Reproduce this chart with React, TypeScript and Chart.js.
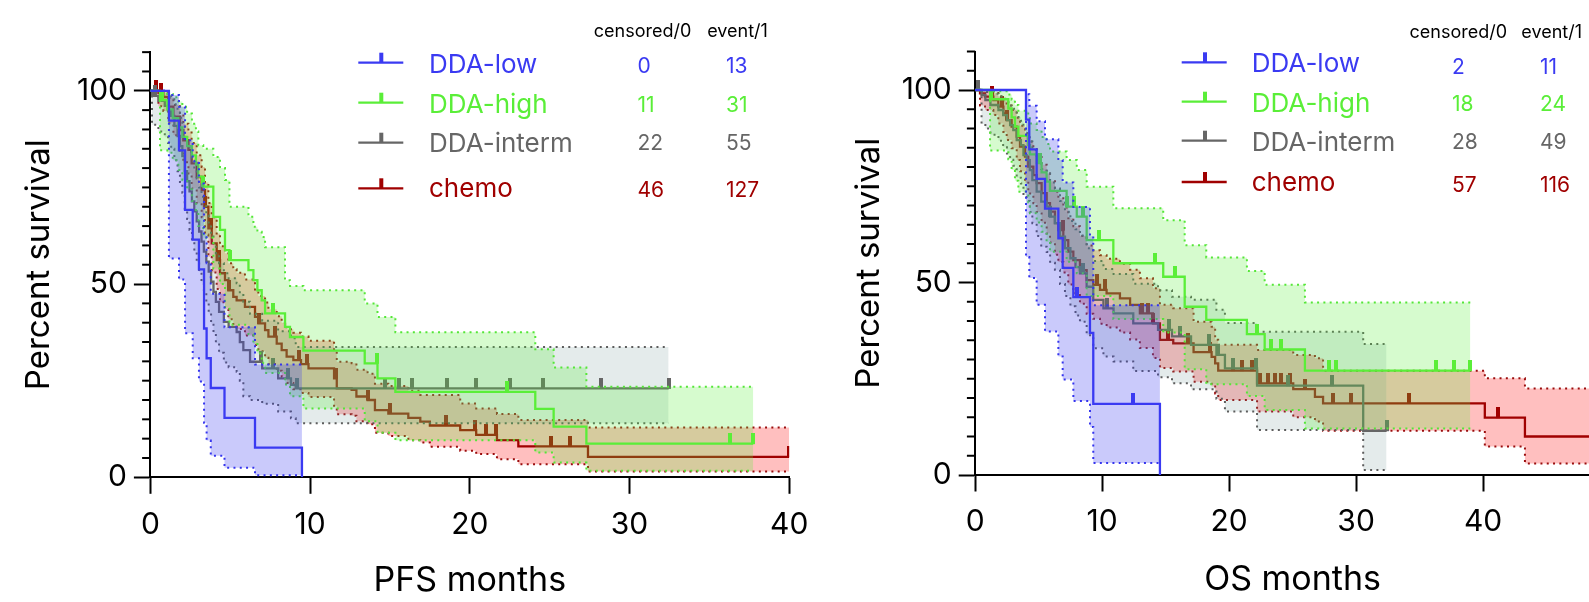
import React, { useEffect, useRef } from "react";
import { Chart, registerables } from "chart.js";
Chart.register(...registerables);

const FONT = "Inter";

// ---------- axis tick labels ----------
const yTickValues = [0, 50, 100];
const yMinorTickValues = [5, 10, 15, 20, 25, 30, 35, 40, 45, 55, 60, 65, 70, 75, 80, 85, 90, 95, 105, 110];
const pfsXTickValues = [0, 10, 20, 30, 40];
const osXTickValues = [0, 10, 20, 30, 40, 50];

// ---------- legend table ----------
const groupNames = ["DDA-low", "DDA-high", "DDA-interm", "chemo"];
const pfsCensoredCounts = [0, 11, 22, 46];
const pfsEventCounts = [13, 31, 55, 127];
const osCensoredCounts = [2, 18, 28, 57];
const osEventCounts = [11, 24, 49, 116];

// ---------- PFS : DDA-low ----------
const pfsLowT = [0, 1.16, 1.79, 2.17, 2.65, 3.04, 3.36, 3.52, 3.78, 4.64, 6.55, 9.49];
const pfsLowS = [100, 92.3, 84.6, 69.2, 61.5, 53.8, 38.5, 30.8, 23.1, 15.4, 7.7, 0];
const pfsLowU = [100, 98.9, 95.9, 87.2, 81.8, 76.0, 62.8, 55.4, 47.5, 38.8, 29.2, 29.2];
const pfsLowL = [100, 56.6, 51.2, 37.3, 30.8, 24.8, 14.1, 9.5, 5.6, 2.5, 0.5, 0.5];
const pfsLowCens: number[] = [];

// ---------- PFS : DDA-high ----------
const pfsHighT = [0, 0.6, 1.06, 1.4, 1.75, 2.0, 2.3, 2.6, 2.85, 3.0, 3.31, 3.94, 4.36, 4.67, 4.95, 6.14, 6.45, 6.7, 6.97, 7.18, 8.43, 8.74, 9.58, 13.42, 14.22, 15.34, 24.1, 25.25, 27.3, 37.75];
const pfsHighS = [100, 97.6, 95.2, 92.9, 90.5, 88.1, 85.7, 83.3, 80.9, 77.8, 75.2, 67.4, 64.0, 58.8, 56.2, 53.6, 51.0, 48.4, 45.8, 42.4, 38.9, 36.3, 32.8, 29.5, 25.6, 22.1, 17.7, 13.1, 8.7, 8.7];
const pfsHighU = [100, 99.7, 99.2, 98.3, 97.2, 95.9, 94.1, 91.5, 89.5, 85.9, 85.0, 82.9, 80.0, 76.9, 70.0, 67.4, 64.8, 63.5, 62.2, 59.5, 51.0, 49.5, 48.4, 45.0, 41.5, 37.5, 33.1, 28.4, 23.4, 23.4];
const pfsHighL = [100, 84.6, 84.0, 82.0, 79.5, 77.0, 74.5, 71.5, 68.5, 65.0, 62.0, 54.0, 50.0, 44.0, 39.5, 37.0, 34.5, 32.0, 29.5, 27.0, 24.0, 21.0, 17.8, 14.5, 11.5, 9.6, 6.4, 3.8, 1.7, 1.7];
const pfsHighCens = [0.7, 3.31, 4.98, 7.7, 14.17, 22.3, 36.3, 37.75];

// ---------- PFS : DDA-interm ----------
const pfsMidT = [0, 0.1, 0.5, 0.9, 1.1, 1.3, 1.5, 1.7, 1.85, 2.0, 2.15, 2.3, 2.45, 2.6, 2.75, 2.9, 3.05, 3.2, 3.35, 3.5, 3.65, 3.8, 3.95, 4.1, 4.3, 4.6, 4.9, 5.4, 5.6, 5.82, 6.24, 7.0, 8.0, 8.8, 9.1, 32.45];
const pfsMidS = [100, 98.7, 97.4, 96.1, 94.8, 93.5, 90.9, 88.3, 85.7, 83.1, 79.2, 76.6, 74.0, 71.4, 68.8, 66.2, 63.6, 61.0, 58.4, 55.8, 53.2, 50.6, 48.0, 45.4, 42.8, 40.2, 38.9, 37.6, 35.0, 32.9, 29.9, 28.2, 25.6, 23.9, 23.0, 23.0];
const pfsMidU = [100, 99.9, 99.7, 99.3, 98.8, 98.2, 96.5, 94.8, 93.0, 91.2, 88.5, 86.3, 84.2, 81.9, 79.6, 77.3, 75.0, 72.6, 70.2, 67.8, 65.4, 62.9, 60.5, 58.0, 55.4, 52.8, 51.5, 50.2, 47.6, 45.4, 42.3, 40.5, 37.8, 36.0, 33.7, 33.7];
const pfsMidL = [100, 91.2, 89.5, 88.0, 86.5, 85.0, 82.0, 79.2, 76.4, 73.6, 69.5, 66.8, 64.0, 61.2, 58.5, 55.8, 53.1, 50.4, 47.7, 45.0, 42.4, 39.8, 37.3, 34.7, 32.2, 29.7, 28.5, 27.3, 25.0, 21.0, 20.0, 19.0, 17.0, 15.3, 14.0, 14.0];
const pfsMidCens = [0.3, 6.9, 7.7, 8.6, 9.2, 14.7, 15.55, 16.4, 18.6, 20.4, 22.5, 24.6, 28.2, 32.45];

// ---------- PFS : chemo ----------
const pfsChemoT = [0, 0.5, 0.81, 1.12, 1.44, 1.85, 2.06, 2.38, 2.58, 2.9, 3.21, 3.42, 3.63, 3.84, 4.15, 4.36, 4.67, 4.88, 5.19, 5.4, 5.92, 6.55, 6.76, 7.18, 7.39, 7.91, 8.22, 8.53, 8.95, 9.43, 9.9, 11.5, 11.67, 12.6, 12.9, 13.6, 14.06, 14.9, 16.15, 16.9, 17.5, 19.4, 20.4, 21.7, 23.04, 27.4, 40.0];
const pfsChemoS = [100, 99.4, 98.4, 95.9, 93.3, 89.8, 87.2, 84.7, 81.2, 77.7, 74.3, 70.0, 64.4, 60.5, 56.2, 52.8, 51.0, 48.4, 46.7, 45.8, 44.1, 41.5, 39.8, 38.1, 36.4, 34.6, 32.9, 31.2, 30.3, 29.3, 28.2, 25.6, 23.0, 22.6, 20.9, 20.0, 17.4, 16.5, 15.4, 14.4, 13.4, 12.2, 11.0, 9.6, 8.0, 5.3, 5.3];
const pfsChemoU = [100, 99.9, 99.6, 98.2, 96.3, 93.6, 91.5, 89.5, 86.5, 83.3, 80.3, 76.3, 71.0, 67.3, 63.1, 59.8, 58.0, 55.4, 53.8, 52.9, 51.2, 48.6, 46.9, 45.2, 43.5, 41.7, 40.0, 38.3, 37.4, 36.4, 35.3, 32.6, 29.9, 29.5, 27.8, 26.8, 24.2, 23.6, 22.4, 21.3, 21.3, 19.1, 17.8, 16.4, 14.8, 12.9, 12.9];
const pfsChemoL = [100, 96.0, 94.8, 91.6, 88.5, 84.5, 81.5, 78.6, 74.7, 70.9, 67.3, 62.8, 57.0, 53.0, 48.7, 45.3, 43.5, 40.9, 39.3, 38.4, 36.7, 34.2, 32.6, 30.9, 29.3, 27.6, 26.0, 24.4, 22.8, 21.8, 20.8, 18.5, 16.3, 15.9, 14.5, 13.7, 11.5, 10.7, 9.6, 9.0, 7.9, 6.9, 6.0, 4.7, 3.4, 1.5, 1.5];
const pfsChemoCens = [0.35, 0.65, 3.45, 3.8, 4.3, 4.9, 6.8, 7.8, 9.3, 9.8, 11.6, 13.6, 15.0, 18.5, 20.3, 21.0, 21.65, 25.1, 26.3, 40.0];

// ---------- OS : DDA-low ----------
const osLowT = [0, 4.0, 4.26, 4.84, 5.5, 6.55, 6.89, 7.73, 9.04, 9.3, 14.55];
const osLowS = [100, 92.3, 84.6, 76.9, 69.2, 61.5, 53.8, 46.2, 36.9, 18.5, 0];
const osLowU = [100, 98.9, 95.9, 91.9, 87.2, 81.8, 76.0, 69.6, 62.0, 44.1, 44.1];
const osLowL = [100, 56.6, 51.2, 44.2, 37.3, 30.8, 24.8, 19.2, 12.5, 3.1, 3.1];
const osLowCens = [8.0, 12.4];

// ---------- OS : DDA-high ----------
const osHighT = [0, 1.17, 2.61, 2.87, 3.13, 3.4, 4.18, 4.31, 4.84, 5.23, 5.62, 5.89, 7.2, 8.0, 8.78, 10.88, 14.81, 16.5, 18.2, 21.4, 22.8, 25.97, 39.0];
const osHighS = [100, 97.6, 95.2, 92.9, 90.5, 88.1, 85.7, 83.3, 81.0, 78.6, 76.2, 73.8, 69.7, 67.1, 61.0, 55.0, 51.5, 43.7, 40.3, 36.6, 32.6, 27.1, 27.1];
const osHighU = [100, 99.7, 98.8, 97.5, 96.1, 94.6, 93.0, 91.3, 89.6, 87.8, 86.0, 84.0, 81.8, 79.2, 74.9, 69.3, 66.2, 59.7, 56.5, 53.0, 49.4, 44.8, 44.8];
const osHighL = [100, 84.3, 82.0, 79.2, 76.4, 73.6, 70.8, 68.0, 65.6, 63.2, 60.6, 58.0, 55.4, 52.4, 46.5, 40.5, 37.0, 27.5, 23.6, 20.5, 16.9, 12.1, 12.1];
const osHighCens = [1.25, 5.1, 7.25, 7.75, 8.5, 9.75, 14.16, 15.7, 22.2, 23.3, 24.1, 27.9, 28.4, 36.3, 37.7, 39.0];

// ---------- OS : DDA-interm ----------
const osMidT = [0, 0.5, 0.8, 1.2, 1.83, 2.2, 2.5, 2.75, 3.0, 3.27, 3.6, 3.8, 4.05, 4.3, 4.5, 4.84, 5.2, 5.63, 5.9, 6.28, 6.68, 7.07, 7.5, 7.9, 8.25, 8.78, 9.3, 10.1, 10.9, 12.45, 14.4, 15.5, 17.0, 19.0, 19.67, 22.2, 30.56, 32.4];
const osMidS = [100, 98.7, 97.4, 96.1, 94.8, 93.5, 92.2, 90.9, 89.6, 87.0, 85.7, 83.1, 81.8, 79.2, 76.6, 73.6, 71.0, 69.7, 67.1, 65.4, 61.9, 58.9, 56.3, 54.0, 52.4, 48.9, 45.5, 43.3, 42.0, 39.4, 37.7, 36.0, 33.8, 31.2, 27.7, 23.2, 11.5, 11.5];
const osMidU = [100, 99.8, 99.5, 99.0, 98.4, 97.7, 96.9, 96.0, 95.1, 93.0, 92.0, 89.9, 88.8, 86.6, 84.4, 81.8, 79.5, 78.3, 76.0, 74.4, 71.2, 68.4, 66.0, 63.8, 62.2, 58.9, 55.6, 53.5, 52.2, 49.7, 48.0, 46.3, 45.5, 42.9, 39.5, 37.2, 34.0, 34.0];
const osMidL = [100, 91.2, 90.0, 88.4, 86.8, 85.1, 83.5, 81.9, 80.3, 77.2, 75.7, 72.7, 71.2, 68.3, 65.4, 62.1, 59.3, 57.9, 55.1, 53.3, 49.6, 46.5, 43.8, 41.4, 39.8, 36.3, 32.9, 30.8, 29.5, 27.0, 25.4, 23.8, 22.3, 19.8, 16.5, 11.7, 1.3, 1.3];
const osMidCens = [0.25, 5.9, 8.46, 10.35, 15.3, 16.1, 18.4, 19.1, 20.3, 22.1, 24.6, 28.1, 32.4];

// ---------- OS : chemo ----------
const osChemoT = [0, 0.38, 0.77, 1.43, 1.82, 2.22, 2.48, 2.87, 3.27, 3.53, 3.92, 4.18, 4.58, 4.84, 5.23, 5.63, 5.89, 6.28, 6.55, 6.94, 7.33, 7.73, 8.25, 8.78, 9.3, 9.83, 10.35, 11.4, 12.2, 12.97, 14.0, 14.55, 15.6, 17.2, 18.62, 18.9, 19.14, 22.2, 25.05, 26.76, 27.4, 40.14, 43.3, 49.0];
const osChemoS = [100, 99.1, 98.3, 97.4, 95.7, 93.9, 92.2, 90.5, 87.9, 85.3, 82.7, 80.1, 77.9, 75.8, 73.2, 70.6, 68.4, 65.4, 63.6, 61.0, 58.0, 55.8, 53.2, 50.6, 49.4, 48.1, 47.2, 45.9, 44.2, 42.0, 39.4, 35.1, 34.2, 31.9, 30.7, 29.0, 27.1, 23.8, 22.3, 20.3, 18.6, 14.9, 10.0, 10.0];
const osChemoU = [100, 99.9, 99.6, 99.2, 98.3, 97.2, 96.0, 94.8, 92.8, 90.7, 88.7, 86.6, 84.7, 82.9, 80.6, 78.3, 76.3, 73.6, 71.9, 69.5, 66.7, 64.6, 62.1, 59.6, 58.4, 57.1, 56.2, 54.9, 53.3, 51.1, 48.5, 44.2, 43.3, 39.8, 38.5, 35.1, 33.8, 32.5, 31.2, 30.3, 27.1, 25.1, 22.5, 22.5];
const osChemoL = [100, 96.0, 94.8, 93.5, 91.3, 89.1, 87.0, 84.9, 81.8, 78.9, 75.9, 73.1, 70.6, 68.3, 65.5, 62.7, 60.4, 57.2, 55.3, 52.6, 49.5, 47.2, 44.5, 41.9, 40.6, 39.3, 38.3, 37.0, 35.2, 33.0, 30.4, 27.8, 26.9, 24.2, 23.0, 21.2, 19.5, 16.5, 15.0, 13.9, 11.5, 7.4, 3.0, 3.0];
const osChemoCens = [1.3, 2.1, 2.5, 6.9, 9.6, 10.2, 13.1, 13.6, 14.0, 15.2, 16.8, 18.5, 20.3, 21.0, 21.8, 22.4, 23.1, 23.6, 24.1, 24.8, 26.0, 28.2, 29.6, 34.2, 41.2];

// ---------- styles ----------
const groupColors = ["#3a3af2", "#5aee38", "#666666", "#a00000"];
const dotColors = ["#3434ee", "#55e638", "#5c5c5c", "#9a0c0c"];
const bandColors = ["rgba(60,60,240,0.27)", "rgba(90,240,60,0.25)", "rgba(110,150,150,0.19)", "rgba(255,0,0,0.25)"];

type Series = { T: number[]; S: number[]; U: number[]; L: number[]; C: number[] };

const pfsSeries: Series[] = [
  { T: pfsLowT, S: pfsLowS, U: pfsLowU, L: pfsLowL, C: pfsLowCens },
  { T: pfsHighT, S: pfsHighS, U: pfsHighU, L: pfsHighL, C: pfsHighCens },
  { T: pfsMidT, S: pfsMidS, U: pfsMidU, L: pfsMidL, C: pfsMidCens },
  { T: pfsChemoT, S: pfsChemoS, U: pfsChemoU, L: pfsChemoL, C: pfsChemoCens },
];
const osSeries: Series[] = [
  { T: osLowT, S: osLowS, U: osLowU, L: osLowL, C: osLowCens },
  { T: osHighT, S: osHighS, U: osHighU, L: osHighL, C: osHighCens },
  { T: osMidT, S: osMidS, U: osMidU, L: osMidL, C: osMidCens },
  { T: osChemoT, S: osChemoS, U: osChemoU, L: osChemoL, C: osChemoCens },
];

function levelAt(T: number[], S: number[], t: number) {
  let v = S[0];
  for (let i = 0; i < T.length; i++) if (T[i] <= t) v = S[i];
  return v;
}

function censorGlyph(color: string) {
  const c = document.createElement("canvas");
  c.width = 4;
  c.height = 21;
  const g = c.getContext("2d")!;
  g.fillStyle = color;
  g.fillRect(0, 0, 4, 11);
  return c;
}

function buildDatasets(series: Series[]) {
  const ds: any[] = [];
  series.forEach((s, g) => {
    const base = (g + 1) * 10;
    const pts = (arr: number[]) => s.T.map((t, i) => ({ x: t, y: arr[i] }));
    ds.push({
      label: groupNames[g] + " upper", data: pts(s.U), borderColor: dotColors[g], borderWidth: 2,
      borderDash: [2, 4.3], stepped: "before", pointRadius: 0, fill: "+1", backgroundColor: bandColors[g], order: base + 3,
    });
    ds.push({
      label: groupNames[g] + " lower", data: pts(s.L), borderColor: dotColors[g], borderWidth: 2,
      borderDash: [2, 4.3], stepped: "before", pointRadius: 0, fill: false, order: base + 2,
    });
    ds.push({
      label: groupNames[g], data: pts(s.S), borderColor: groupColors[g], borderWidth: 2.3,
      stepped: "before", pointRadius: 0, fill: false, order: base + 1,
    });
    ds.push({
      label: groupNames[g] + " censored", data: s.C.map((t) => ({ x: t, y: levelAt(s.T, s.S, t) })),
      showLine: false, pointStyle: censorGlyph(groupColors[g]), pointRadius: 5, pointHoverRadius: 5, order: base,
    });
  });
  return ds;
}

type LegendLayout = {
  h1x: number; h2x: number; hy: number; lx0: number; lx1: number; tx: number;
  ly: number[]; nx: number; nb: number[]; c1x: number; c2x: number; db: number[];
};

function legendTable(L: LegendLayout, censored: number[], events: number[]) {
  return {
    id: "legendTable",
    afterDraw(chart: any) {
      const ctx = chart.ctx as CanvasRenderingContext2D;
      ctx.save();
      ctx.textBaseline = "alphabetic";
      ctx.fillStyle = "#000";
      ctx.font = `18px ${FONT}`;
      ctx.textAlign = "center";
      ctx.fillText("censored/0", L.h1x, L.hy);
      ctx.fillText("event/1", L.h2x, L.hy);
      groupNames.forEach((name, i) => {
        const color = groupColors[i];
        ctx.strokeStyle = color;
        ctx.lineWidth = 2.3;
        ctx.beginPath();
        ctx.moveTo(L.lx0, L.ly[i]);
        ctx.lineTo(L.lx1, L.ly[i]);
        ctx.stroke();
        ctx.fillStyle = color;
        ctx.fillRect(L.tx, L.ly[i] - 10, 4, 10);
        ctx.textAlign = "left";
        ctx.font = `26px ${FONT}`;
        ctx.fillText(name, L.nx, L.nb[i]);
        ctx.font = `21px ${FONT}`;
        ctx.fillText(String(censored[i]), L.c1x, L.db[i]);
        ctx.fillText(String(events[i]), L.c2x, L.db[i]);
      });
      ctx.restore();
    },
  };
}

const minorTicks = {
  id: "minorTicks",
  afterDraw(chart: any) {
    const y = chart.scales.y;
    const x0 = chart.chartArea.left;
    const ctx = chart.ctx as CanvasRenderingContext2D;
    ctx.save();
    ctx.strokeStyle = "#000";
    ctx.lineWidth = 2;
    yMinorTickValues.forEach((v) => {
      const py = y.getPixelForValue(v);
      ctx.beginPath();
      ctx.moveTo(x0 - 8.3, py);
      ctx.lineTo(x0, py);
      ctx.stroke();
    });
    ctx.restore();
  },
};

type Cfg = {
  series: Series[]; xMax: number; xTicks: number[]; xTitle: string;
  padLeft: number; padTop: number; padRight: number; yWidth: number; xHeight: number;
  xTitlePad: number; legend: any;
};

function makeConfig(c: Cfg): any {
  return {
    type: "line",
    data: { datasets: buildDatasets(c.series) },
    options: {
      animation: false,
      responsive: false,
      events: [],
      layout: { padding: { left: c.padLeft, top: c.padTop, right: c.padRight, bottom: 0 } },
      plugins: {
        legend: { display: false },
        tooltip: { enabled: false },
        filler: { drawTime: "beforeDatasetDraw", propagate: false },
      },
      scales: {
        x: {
          type: "linear", min: 0, max: c.xMax,
          afterBuildTicks: (s: any) => { s.ticks = c.xTicks.map((v) => ({ value: v })); },
          afterFit: (s: any) => { s.height = c.xHeight; },
          grid: { drawOnChartArea: false, drawTicks: true, tickLength: 16.5, tickWidth: 2, tickColor: "#000" },
          border: { display: true, width: 2, color: "#000" },
          ticks: { font: { family: FONT, size: 30, lineHeight: 1.2 }, color: "#000", padding: 12.8, maxRotation: 0, autoSkip: false },
          title: { display: true, text: c.xTitle, color: "#000", font: { family: FONT, size: 34, lineHeight: 1 }, padding: { top: 0, bottom: c.xTitlePad } },
        },
        y: {
          type: "linear", min: 0, max: 110,
          afterBuildTicks: (s: any) => { s.ticks = yTickValues.map((v) => ({ value: v })); },
          afterFit: (s: any) => { s.width = c.yWidth; },
          grid: { drawOnChartArea: false, drawTicks: true, tickLength: 16.5, tickWidth: 2, tickColor: "#000" },
          border: { display: true, width: 2, color: "#000" },
          ticks: { font: { family: FONT, size: 30, lineHeight: 1.2 }, color: "#000", padding: 6.9 },
          title: { display: true, text: "Percent survival", color: "#000", font: { family: FONT, size: 33, lineHeight: 1 }, padding: { top: 22.8, bottom: 0 } },
        },
      },
    },
    plugins: [minorTicks, c.legend],
  };
}

export default function App() {
  const leftRef = useRef<HTMLCanvasElement>(null);
  const rightRef = useRef<HTMLCanvasElement>(null);

  useEffect(() => {
    Chart.defaults.font.family = FONT;
    const left = new Chart(leftRef.current!, makeConfig({
      series: pfsSeries, xMax: 40, xTicks: pfsXTickValues, xTitle: "PFS months",
      padLeft: 0, padTop: 52.15, padRight: 1589 - 789.2, yWidth: 150.4, xHeight: 602 - 477.3, xTitlePad: 4,
      legend: legendTable({
        h1x: 642.5, h2x: 737.5, hy: 36.7, lx0: 358.3, lx1: 403.3, tx: 379.3,
        ly: [62.7, 102.7, 142.7, 188.3], nx: 429, nb: [72.7, 112.7, 151.7, 196.7],
        c1x: 637.5, c2x: 726, db: [73.3, 111.7, 150.0, 197.3],
      }, pfsCensoredCounts, pfsEventCounts),
    }));
    const right = new Chart(rightRef.current!, makeConfig({
      series: osSeries, xMax: 50, xTicks: osXTickValues, xTitle: "OS months",
      padLeft: 829.7, padTop: 51.5, padRight: 1700 - 1610, yWidth: 975.2 - 829.7, xHeight: 602 - 475, xTitlePad: 5.6,
      legend: legendTable({
        h1x: 1458.3, h2x: 1551.7, hy: 38.3, lx0: 1181.7, lx1: 1226.7, tx: 1203,
        ly: [62.3, 101.7, 140.7, 182], nx: 1251.7, nb: [72.3, 111.7, 150.7, 190.7],
        c1x: 1452, c2x: 1540, db: [74, 110.7, 149.3, 191.7],
      }, osCensoredCounts, osEventCounts),
    }));
    return () => {
      left.destroy();
      right.destroy();
    };
  }, []);

  return (
    <div style={{ position: "fixed", left: 0, top: 0, width: 1589, height: 602, overflow: "hidden", background: "#fff" }}>
      <canvas ref={leftRef} width={1589} height={602} style={{ position: "absolute", left: 0, top: 0 }} />
      <canvas ref={rightRef} width={1700} height={602} style={{ position: "absolute", left: 0, top: 0 }} />
    </div>
  );
}
